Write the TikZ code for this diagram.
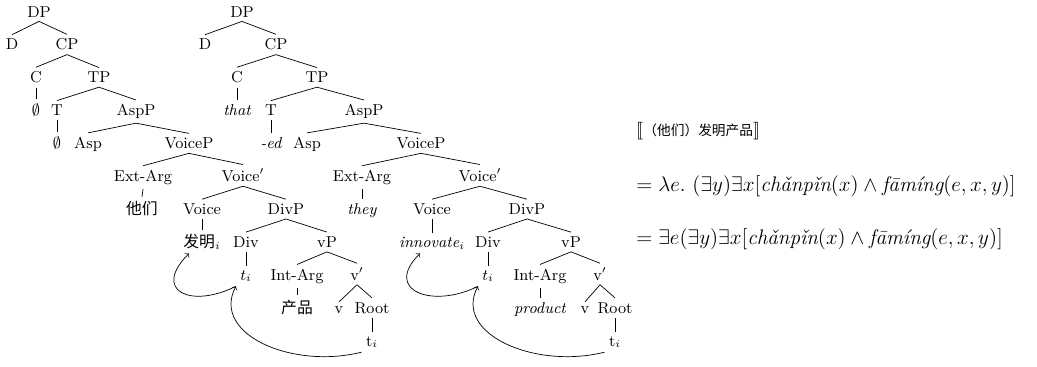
\documentclass[tikz,border=0pt]{standalone}
\usepackage{fontspec}
\usepackage{stmaryrd}
\newfontfamily\cjk{Noto Sans CJK SC}

\tikzset{phrase/.style={font=\fontsize{9}{11}\selectfont,anchor=base,inner sep=2.5pt,outer sep=0pt},
word/.style={phrase,font=\fontsize{9}{11}\selectfont\itshape},
branch/.style={thin},
movement/.style={thin,->},
formula/.style={font=\fontsize{12}{14}\selectfont,anchor=base west,inner sep=0pt}}

\begin{document}
\begin{tikzpicture}[thin]
\useasboundingbox (0,0) rectangle (20.740,7.320);

%% left tree: nodes
\node [phrase] (dp1) at (0.780,6.980) {DP};
\node [phrase] (d1) at (0.240,6.322) {D};
\node [phrase] (cp1) at (1.340,6.322) {CP};
\node [phrase] (c1) at (0.720,5.664) {C};
\node [phrase] (tp1) at (1.980,5.664) {TP};
\node [phrase] (null1) at (0.720,5.006) {$\emptyset$};
\node [phrase] (t1) at (1.140,5.006) {T};
\node [phrase] (aspp1) at (2.720,5.006) {AspP};
\node [phrase] (tnull1) at (1.140,4.348) {$\emptyset$};
\node [phrase] (asp1) at (1.760,4.348) {Asp};
\node [phrase] (voicep1) at (3.780,4.348) {VoiceP};
\node [phrase] (extarg1) at (2.860,3.690) {Ext-Arg};
\node [phrase] (voicebar1) at (4.860,3.690) {Voice$'$};
\node [phrase] (they1) at (2.840,3.032) {\cjk 他们};
\node [phrase] (voice1) at (4.040,3.032) {Voice};
\node [phrase] (divp1) at (5.720,3.032) {DivP};
\node [phrase] (verb1) at (4.040,2.374) {{\cjk 发明}$_i$};
\node [phrase] (div1) at (4.920,2.374) {Div};
\node [phrase] (vp1) at (6.540,2.374) {vP};
\node [phrase] (trace1) at (4.920,1.716) {$t_i$};
\node [phrase] (intarg1) at (5.940,1.716) {Int-Arg};
\node [phrase] (vbar1) at (7.140,1.716) {v$'$};
\node [phrase] (obj1) at (5.940,1.058) {\cjk 产品};
\node [phrase] (v1) at (6.780,1.058) {v};
\node [phrase] (root1) at (7.440,1.058) {Root};
\node [phrase] (rtrace1) at (7.440,0.400) {t$_i$};

%% right tree: nodes
\node [phrase] (dp2) at (4.840,6.980) {DP};
\node [phrase] (d2) at (4.100,6.322) {D};
\node [phrase] (cp2) at (5.520,6.322) {CP};
\node [phrase] (c2) at (4.740,5.664) {C};
\node [phrase] (tp2) at (6.340,5.664) {TP};
\node [word] (comp2) at (4.740,5.006) {that};
\node [phrase] (t2) at (5.420,5.006) {T};
\node [phrase] (aspp2) at (7.280,5.006) {AspP};
\node [word] (tense2) at (5.420,4.348) {-ed};
\node [phrase] (asp2) at (6.140,4.348) {Asp};
\node [phrase] (voicep2) at (8.420,4.348) {VoiceP};
\node [phrase] (extarg2) at (7.240,3.690) {Ext-Arg};
\node [phrase] (voicebar2) at (9.600,3.690) {Voice$'$};
\node [word] (they2) at (7.240,3.032) {they};
\node [phrase] (voice2) at (8.640,3.032) {Voice};
\node [phrase] (divp2) at (10.540,3.032) {DivP};
\node [word] (verb2) at (8.640,2.374) {innovate$_i$};
\node [phrase] (div2) at (9.760,2.374) {Div};
\node [phrase] (vp2) at (11.420,2.374) {vP};
\node [phrase] (trace2) at (9.760,1.716) {$t_i$};
\node [phrase] (intarg2) at (10.800,1.716) {Int-Arg};
\node [phrase] (vbar2) at (12.000,1.716) {v$'$};
\node [word] (obj2) at (10.800,1.058) {product};
\node [phrase] (v2) at (11.700,1.058) {v};
\node [phrase] (root2) at (12.300,1.058) {Root};
\node [phrase] (rtrace2) at (12.300,0.400) {t$_i$};

%% left tree: branches
\draw [branch] (dp1.south) -- (d1.north);
\draw [branch] (dp1.south) -- (cp1.north);
\draw [branch] (cp1.south) -- (c1.north);
\draw [branch] (cp1.south) -- (tp1.north);
\draw [branch] (c1.south) -- (null1.north);
\draw [branch] (tp1.south) -- (t1.north);
\draw [branch] (tp1.south) -- (aspp1.north);
\draw [branch] (t1.south) -- (tnull1.north);
\draw [branch] (aspp1.south) -- (asp1.north);
\draw [branch] (aspp1.south) -- (voicep1.north);
\draw [branch] (voicep1.south) -- (extarg1.north);
\draw [branch] (voicep1.south) -- (voicebar1.north);
\draw [branch] (extarg1.south) -- (they1.north);
\draw [branch] (voicebar1.south) -- (voice1.north);
\draw [branch] (voicebar1.south) -- (divp1.north);
\draw [branch] (voice1.south) -- (verb1.north);
\draw [branch] (divp1.south) -- (div1.north);
\draw [branch] (divp1.south) -- (vp1.north);
\draw [branch] (div1.south) -- (trace1.north);
\draw [branch] (vp1.south) -- (intarg1.north);
\draw [branch] (vp1.south) -- (vbar1.north);
\draw [branch] (intarg1.south) -- (obj1.north);
\draw [branch] (vbar1.south) -- (v1.north);
\draw [branch] (vbar1.south) -- (root1.north);
\draw [branch] (root1.south) -- (rtrace1.north);

%% right tree: branches
\draw [branch] (dp2.south) -- (d2.north);
\draw [branch] (dp2.south) -- (cp2.north);
\draw [branch] (cp2.south) -- (c2.north);
\draw [branch] (cp2.south) -- (tp2.north);
\draw [branch] (c2.south) -- (comp2.north);
\draw [branch] (tp2.south) -- (t2.north);
\draw [branch] (tp2.south) -- (aspp2.north);
\draw [branch] (t2.south) -- (tense2.north);
\draw [branch] (aspp2.south) -- (asp2.north);
\draw [branch] (aspp2.south) -- (voicep2.north);
\draw [branch] (voicep2.south) -- (extarg2.north);
\draw [branch] (voicep2.south) -- (voicebar2.north);
\draw [branch] (extarg2.south) -- (they2.north);
\draw [branch] (voicebar2.south) -- (voice2.north);
\draw [branch] (voicebar2.south) -- (divp2.north);
\draw [branch] (voice2.south) -- (verb2.north);
\draw [branch] (divp2.south) -- (div2.north);
\draw [branch] (divp2.south) -- (vp2.north);
\draw [branch] (div2.south) -- (trace2.north);
\draw [branch] (vp2.south) -- (intarg2.north);
\draw [branch] (vp2.south) -- (vbar2.north);
\draw [branch] (intarg2.south) -- (obj2.north);
\draw [branch] (vbar2.south) -- (v2.north);
\draw [branch] (vbar2.south) -- (root2.north);
\draw [branch] (root2.south) -- (rtrace2.north);

%% head movement
\draw [movement] (rtrace1.south west) .. controls +(-1.4,-0.35) and +(-0.5,-0.95) .. (trace1.south west);
\draw [movement] (trace1.south west) .. controls +(-0.9,-0.45) and +(-0.75,-0.75) .. ([xshift=-0.26cm]verb1.south);
\draw [movement] (rtrace2.south west) .. controls +(-1.4,-0.35) and +(-0.5,-0.95) .. (trace2.south west);
\draw [movement] (trace2.south west) .. controls +(-0.9,-0.45) and +(-0.75,-0.75) .. ([xshift=-0.24cm]verb2.south);

%% denotation
\node [formula,font=\fontsize{10}{12}\selectfont] (sem) at (12.720,4.620) {$\llbracket${\cjk\fontsize{7.8}{9}\selectfont （他们）发明产品}$\rrbracket$};
\node [formula] (step1) at (12.720,3.500) {$= \lambda e.\ (\exists y)\exists x[\textit{chǎnpǐn}(x) \wedge \textit{fāmíng}(e,x,y)]$};
\node [formula] (step2) at (12.720,2.440) {$= \exists e(\exists y)\exists x[\textit{chǎnpǐn}(x) \wedge \textit{fāmíng}(e,x,y)]$};

\end{tikzpicture}
\end{document}
